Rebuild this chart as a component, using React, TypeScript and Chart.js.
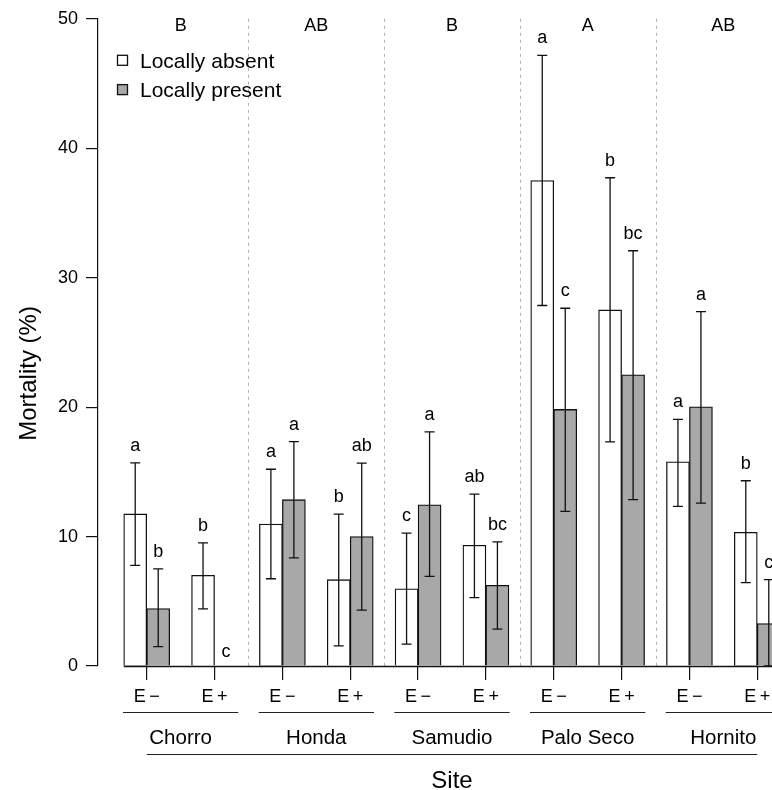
import React, { useEffect, useRef } from "react";
import { Chart, registerables } from "chart.js";

Chart.register(...registerables);

const FONT = "'Liberation Sans', Arial, Helvetica, sans-serif";

const SITES = ["Chorro", "Honda", "Samudio", "Palo Seco", "Hornito"];
const E_LEVELS = ["E\u2009\u2212", "E\u2009+"];
const SITE_LETTERS = ["B", "AB", "B", "A", "AB"];
const SERIES = ["Locally absent", "Locally present"];

// order: Chorro E−, Chorro E+, Honda E−, Honda E+, ... Hornito E+
const ABSENT_MEAN = [11.75, 7.0, 10.97, 6.67, 5.97, 9.33, 37.51, 27.51, 15.77, 10.33];
const ABSENT_LOW = [7.77, 4.41, 6.74, 1.56, 1.69, 5.28, 27.85, 17.31, 12.33, 6.44];
const ABSENT_HIGH = [15.7, 9.51, 15.2, 11.74, 10.26, 13.28, 47.18, 37.72, 19.05, 14.31];
const ABSENT_LETTERS = ["a", "b", "a", "b", "c", "ab", "a", "b", "a", "b"];

const PRESENT_MEAN = [4.44, 0, 12.85, 10.0, 12.46, 6.23, 19.82, 22.49, 20.02, 3.28];
const PRESENT_LOW = [1.49, 0, 8.36, 4.31, 6.92, 2.85, 11.95, 12.85, 12.59, 0];
const PRESENT_HIGH = [7.51, 0, 17.33, 15.67, 18.08, 9.59, 27.64, 32.08, 27.38, 6.67];
const PRESENT_LETTERS = ["b", "c", "a", "ab", "a", "bc", "c", "bc", "a", "c"];

const Y_TICKS = [0, 10, 20, 30, 40, 50];
const X_RANGE = [-0.718, 9.217];

const LOWS = [ABSENT_LOW, PRESENT_LOW];
const HIGHS = [ABSENT_HIGH, PRESENT_HIGH];
const LETTERS = [ABSENT_LETTERS, PRESENT_LETTERS];
const COLORS = ["#ffffff", "#a8a8a8"];
const INK = "#111111";
const BAR_W = 23;

const annotate = {
  id: "annotate",
  beforeDatasetsDraw(chart: any) {
    const { ctx, chartArea } = chart;
    const x = chart.scales.x;
    const y = chart.scales.y;
    const y0 = y.getPixelForValue(0);
    ctx.save();
    ctx.strokeStyle = "#b0b0b0";
    ctx.lineWidth = 1;
    ctx.setLineDash([3, 4]);
    for (let s = 1; s < SITES.length; s++) {
      const xp = Math.round(x.getPixelForValue(2 * s - 0.5)) + 0.5;
      ctx.beginPath();
      ctx.moveTo(xp, chartArea.top);
      ctx.lineTo(xp, y0);
      ctx.stroke();
    }
    ctx.restore();
  },
  afterDatasetsDraw(chart: any) {
    const { ctx, chartArea } = chart;
    const x = chart.scales.x;
    const y = chart.scales.y;
    const y0 = y.getPixelForValue(0);
    ctx.save();
    ctx.strokeStyle = INK;
    ctx.lineWidth = 1.3;
    ctx.beginPath();
    ctx.moveTo(x.getPixelForValue(0) - BAR_W, Math.round(y0) + 0.5);
    ctx.lineTo(chartArea.right, Math.round(y0) + 0.5);
    ctx.stroke();

    ctx.font = `18px ${FONT}`;
    ctx.fillStyle = "#000";
    ctx.textAlign = "center";
    ctx.textBaseline = "alphabetic";
    for (let d = 0; d < 2; d++) {
      const meta = chart.getDatasetMeta(d);
      meta.data.forEach((bar: any, i: number) => {
        const cx = bar.x;
        const lo = y.getPixelForValue(LOWS[d][i]);
        const hi = y.getPixelForValue(HIGHS[d][i]);
        if (HIGHS[d][i] !== LOWS[d][i]) {
          ctx.beginPath();
          ctx.moveTo(cx, lo);
          ctx.lineTo(cx, hi);
          ctx.moveTo(cx - 5, hi);
          ctx.lineTo(cx + 5, hi);
          ctx.moveTo(cx - 5, lo);
          ctx.lineTo(cx + 5, lo);
          ctx.stroke();
        }
        ctx.fillText(LETTERS[d][i], cx, hi - (HIGHS[d][i] === LOWS[d][i] ? 9 : 12));
      });
    }

    SITES.forEach((_, s) => {
      ctx.fillText(SITE_LETTERS[s], x.getPixelForValue(2 * s + 0.5), chartArea.top + 12.3);
    });

    ctx.textAlign = "left";
    ctx.font = `21px ${FONT}`;
    ctx.lineWidth = 1.3;
    chart.data.datasets.forEach((ds: any, d: number) => {
      const base = chartArea.top + 49 + d * 29.3;
      const bx = chartArea.left + 19;
      ctx.fillStyle = ds.backgroundColor;
      ctx.fillRect(bx, base - 13, 11, 11);
      ctx.strokeStyle = INK;
      ctx.strokeRect(bx + 0.5, base - 12.5, 10, 10);
      ctx.fillStyle = "#000";
      ctx.fillText(ds.label, bx + 23, base);
    });
    ctx.restore();
  },
  afterDraw(chart: any) {
    const { ctx, chartArea } = chart;
    const x = chart.scales.x;
    const y = chart.scales.y;
    const y0 = y.getPixelForValue(0);
    ctx.save();
    ctx.strokeStyle = "#222";
    ctx.lineWidth = 1.2;
    ctx.fillStyle = "#000";
    ctx.textAlign = "center";
    ctx.textBaseline = "alphabetic";
    ctx.font = `20.5px ${FONT}`;
    const uy = Math.round(y0 + 46) + 0.5;
    SITES.forEach((name, s) => {
      ctx.beginPath();
      ctx.moveTo(x.getPixelForValue(2 * s - 0.35), uy);
      ctx.lineTo(x.getPixelForValue(2 * s + 1.35), uy);
      ctx.stroke();
      ctx.fillText(name, x.getPixelForValue(2 * s + 0.5), y0 + 78);
    });
    const ly = Math.round(y0 + 88) + 0.5;
    const last = ABSENT_MEAN.length - 1;
    ctx.beginPath();
    ctx.moveTo(x.getPixelForValue(0), ly);
    ctx.lineTo(x.getPixelForValue(last), ly);
    ctx.stroke();
    ctx.font = `24px ${FONT}`;
    ctx.fillText("Site", x.getPixelForValue(last / 2), y0 + 122);
    ctx.translate(36, (chartArea.top + chartArea.bottom) / 2 + 31);
    ctx.rotate(-Math.PI / 2);
    ctx.fillText("Mortality (%)", 0, 0);
    ctx.restore();
  },
};

export default function App() {
  const ref = useRef<HTMLCanvasElement | null>(null);
  useEffect(() => {
    const canvas = ref.current!;
    const chart = new Chart(canvas, {
      type: "bar",
      data: {
        datasets: [
          {
            label: SERIES[0],
            data: ABSENT_MEAN.map((v, i) => ({ x: i, y: v })),
            backgroundColor: COLORS[0],
            borderColor: INK,
            borderWidth: 1.3,
          },
          {
            label: SERIES[1],
            data: PRESENT_MEAN.map((v, i) => ({ x: i, y: v })),
            backgroundColor: COLORS[1],
            borderColor: INK,
            borderWidth: 1.3,
          },
        ],
      },
      options: {
        responsive: false,
        animation: false,
        devicePixelRatio: 1,
        events: [],
        layout: { padding: { top: 16, left: 0, right: 0, bottom: 0 } },
        datasets: { bar: { barThickness: BAR_W, grouped: true } } as any,
        plugins: { legend: { display: false }, tooltip: { enabled: false } },
        scales: {
          x: {
            type: "linear",
            min: X_RANGE[0],
            max: X_RANGE[1],
            offset: false,
            afterBuildTicks: (s: any) => {
              s.ticks = ABSENT_MEAN.map((_, i) => ({ value: i }));
            },
            afterFit: (s: any) => {
              s.height = 124;
              s.paddingLeft = 0;
              s.paddingRight = 0;
            },
            grid: {
              offset: false,
              drawOnChartArea: false,
              drawTicks: true,
              tickLength: 14,
              color: INK,
              lineWidth: 1.2,
            },
            border: { display: false },
            ticks: {
              autoSkip: false,
              maxRotation: 0,
              minRotation: 0,
              padding: 6,
              color: "#000",
              font: { family: FONT, size: 18 },
              callback: (v: any) => E_LEVELS[Math.round(v) % 2],
            },
          } as any,
          y: {
            min: 0,
            max: 50,
            afterBuildTicks: (s: any) => {
              s.ticks = Y_TICKS.map((v) => ({ value: v }));
            },
            afterFit: (s: any) => {
              s.width = 98;
            },
            grid: {
              drawOnChartArea: false,
              drawTicks: true,
              tickLength: 12,
              color: INK,
              lineWidth: 1.2,
            },
            border: { display: true, color: INK, width: 1.2 },
            ticks: {
              padding: 8,
              color: "#000",
              font: { family: FONT, size: 18 },
            },
          },
        },
      },
      plugins: [annotate],
    });
    return () => {
      chart.destroy();
    };
  }, []);
  return (
    <div style={{ position: "absolute", left: 0, top: 0, width: 772, height: 790, background: "#fff" }}>
      <canvas ref={ref} width={772} height={790} style={{ display: "block", width: 772, height: 790 }} />
    </div>
  );
}
